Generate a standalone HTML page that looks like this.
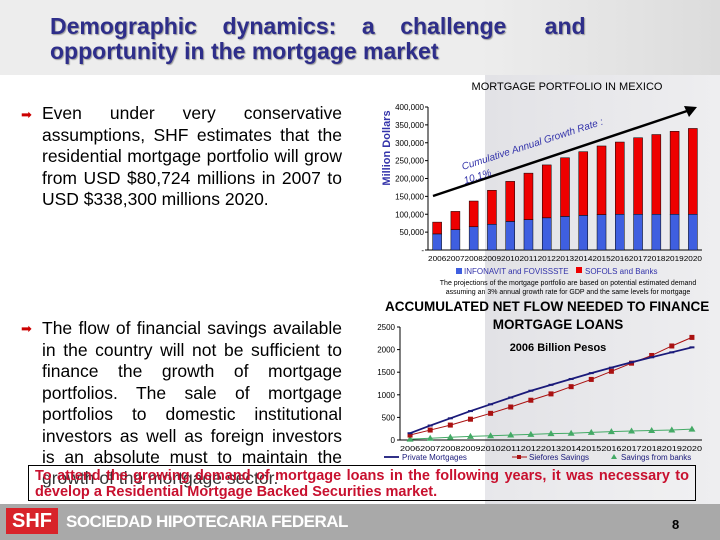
<!DOCTYPE html>
<html><head><meta charset="utf-8"><style>
body{margin:0;width:720px;height:540px;overflow:hidden;position:relative;font-family:"Liberation Sans",sans-serif;background:#fff}
.abs{position:absolute}
.txt{font-size:17.5px;line-height:21.5px;text-align:justify;text-align-last:justify;color:#000}
</style></head><body>
<div class="abs" style="left:0;top:0;width:720px;height:75px;background:linear-gradient(90deg,#ededed 0,#ededed 480px,#dcdcdc 720px)"></div>
<div class="abs" style="left:485px;top:75px;width:235px;height:430px;background:linear-gradient(90deg,#e2e2e6,#eeeef0)"></div>
<div class="abs" style="left:50px;top:14px;width:545px;font:bold 23px/25px 'Liberation Sans',sans-serif;color:#2e2e8a;text-align:justify;text-align-last:left;text-shadow:1px 1px 1px #999">Demographic&nbsp;&nbsp;&nbsp; dynamics:&nbsp;&nbsp;&nbsp; a&nbsp;&nbsp;&nbsp; challenge&nbsp;&nbsp;&nbsp;&nbsp;&nbsp; and<br>opportunity in the mortgage market</div>

<div class="abs" style="left:21px;top:107px;color:#c00;font-size:13px">➡</div>
<div class="abs txt" style="left:42px;top:103px;width:300px">Even under very conservative assumptions, SHF estimates that the residential mortgage portfolio will grow from USD $80,724 millions in 2007 to</div>
<div class="abs" style="left:42px;top:189px;font-size:17.5px">USD $338,300 millions 2020.</div>
<div class="abs" style="left:21px;top:321px;color:#c00;font-size:13px">➡</div>
<div class="abs txt" style="left:42px;top:318px;width:300px">The flow of financial savings available in the country will not be sufficient to finance the growth of mortgage portfolios. The sale of mortgage portfolios to domestic institutional investors as well as foreign investors is an absolute must to maintain the</div>
<div class="abs" style="left:42px;top:468px;font-size:17.5px">growth of the mortgage sector.</div>

<svg class="abs" style="left:0;top:0" width="720" height="540" id="charts"></svg>

<div class="abs" style="left:28px;top:465px;width:668px;height:36px;border:1.5px solid #000;box-sizing:border-box;padding:2px 6px 0 6px;font:bold 14.5px/16px 'Liberation Sans',sans-serif;color:#c8102e;text-align:justify;text-align-last:left;background:rgba(255,255,255,0.2)">To attend the growing demand of mortgage loans in the following years, it was necessary to develop a Residential Mortgage Backed Securities market.</div>

<div class="abs" style="left:0;top:504px;width:720px;height:36px;background:#a9a9a9"></div>
<div class="abs" style="left:6px;top:508px;width:52px;height:26px;background:#d8232a;color:#fff;font:bold 20px/26px 'Liberation Sans',sans-serif;text-align:center">SHF</div>
<div class="abs" style="left:66px;top:512px;color:#fff;font:bold 17px/20px 'Liberation Sans',sans-serif;letter-spacing:-0.5px">SOCIEDAD HIPOTECARIA FEDERAL</div>
<div class="abs" style="left:672px;top:517px;font:bold 13px 'Liberation Sans',sans-serif">8</div>

<script>
const years=['2006','2007','2008','2009','2010','2011','2012','2013','2014','2015','2016','2017','2018','2019','2020'];
const barYears=['2006','2007','2008','2009','2010','2011','2012','2013','2014','2015','2016','2017','2018','2019','2020'];
const infonavit=[45000,57000,65000,72000,80000,85000,90000,94000,97000,99000,100000,100000,100000,100000,100000];
const sofols=[33000,51000,72000,95000,112000,130000,148000,164000,178000,192000,202000,214000,223000,232000,240000];
const barTicks=[0,50000,100000,150000,200000,250000,300000,350000,400000];
const barTickLabels=['-','50,000','100,000','150,000','200,000','250,000','300,000','350,000','400,000'];
const privateMort=[150,320,480,640,790,940,1090,1220,1350,1480,1600,1720,1830,1940,2050];
const siefores=[110,220,330,460,590,730,880,1020,1180,1340,1520,1700,1870,2080,2270];
const banks=[20,40,60,80,95,110,125,140,150,170,185,200,210,220,240];
const lineTicks=[0,500,1000,1500,2000,2500];

const svg=document.getElementById('charts');
const NS='http://www.w3.org/2000/svg';
function mk(tag,attrs,name,text){const e=document.createElementNS(NS,tag);for(const k in attrs)e.setAttribute(k,attrs[k]);


if(text!==undefined)e.textContent=text;svg.appendChild(e);return e;}

// Bar chart
const bx0=428,bx1=702,by0=250,by1=107;
const bY=v=>by0-(v/400000)*(by0-by1);
const bStep=(bx1-bx0)/barYears.length;
const bX=i=>bx0+bStep*(i+0.5);
mk('text',{x:567,y:90,'font-size':11,'text-anchor':'middle','font-family':'Liberation Sans'},'bar-chart-title','MORTGAGE PORTFOLIO IN MEXICO');
mk('text',{x:0,y:0,'font-size':11,'font-weight':'bold',fill:'#3333aa','text-anchor':'middle',transform:'translate(390,148) rotate(-90)','font-family':'Liberation Sans'},'bar-y-axis-title','Million Dollars');
mk('line',{x1:bx0,y1:by1,x2:bx0,y2:by0,stroke:'#000'},'bar-y-axis');
mk('line',{x1:bx0,y1:by0,x2:bx1,y2:by0,stroke:'#000'},'bar-x-axis');
barTicks.forEach((t,i)=>{const y=bY(t);
mk('line',{x1:bx0-3,y1:y,x2:bx0,y2:y,stroke:'#000'},'bar-y-tick');
mk('text',{x:bx0-4,y:y+3,'font-size':8,'text-anchor':'end','font-family':'Liberation Sans'},'bar-y-tick-label',barTickLabels[i]);});
barYears.forEach((yr,i)=>{const x=bX(i),w=9;
mk('rect',{x:x-w/2,y:bY(infonavit[i]),width:w,height:by0-bY(infonavit[i]),fill:'#3f5fe0',stroke:'#000','stroke-width':0.5},'bar-infonavit-'+yr);
mk('rect',{x:x-w/2,y:bY(infonavit[i]+sofols[i]),width:w,height:bY(infonavit[i])-bY(infonavit[i]+sofols[i]),fill:'#ee0000',stroke:'#000','stroke-width':0.5},'bar-sofols-'+yr);
mk('text',{x:x,y:by0+11,'font-size':7.5,'text-anchor':'middle','font-family':'Liberation Sans',textLength:bStep,lengthAdjust:'spacingAndGlyphs'},'bar-x-tick-label',yr);});
mk('line',{x1:433,y1:196,x2:690,y2:110,stroke:'#000','stroke-width':2.5},'growth-arrow');
mk('polygon',{points:'697,107 684,106 689,117',fill:'#000'},'growth-arrowhead');
mk('text',{x:0,y:0,'font-size':10,'font-style':'italic',fill:'#3333aa',transform:'translate(463,170) rotate(-18)','font-family':'Liberation Sans'},'growth-rate-label','Cumulative Annual Growth Rate :');
mk('text',{x:0,y:0,'font-size':10,'font-style':'italic',fill:'#3333aa',transform:'translate(465,184) rotate(-18)','font-family':'Liberation Sans'},'growth-rate-value','10.1%');
mk('rect',{x:456,y:268,width:6,height:6,fill:'#3f5fe0'},'legend-infonavit-swatch');
mk('text',{x:464,y:274,'font-size':8,fill:'#3333aa','font-family':'Liberation Sans'},'legend-infonavit','INFONAVIT and FOVISSSTE');
mk('rect',{x:576,y:267,width:6,height:6,fill:'#ee0000'},'legend-sofols-swatch');
mk('text',{x:585,y:274,'font-size':8,fill:'#3333aa','font-family':'Liberation Sans'},'legend-sofols','SOFOLS and Banks');
mk('text',{x:568,y:285,'font-size':7,'text-anchor':'middle','font-family':'Liberation Sans'},'bar-footnote-1','The projections of the mortgage portfolio are based on potential estimated demand');
mk('text',{x:568,y:294,'font-size':7,'text-anchor':'middle','font-family':'Liberation Sans'},'bar-footnote-2','assuming an 3% annual growth rate for GDP and  the same levels for mortgage');

// Line chart
const lx0=400,lx1=702,ly0=440,ly1=327;
const lY=v=>ly0-(v/2500)*(ly0-ly1);
const lStep=(lx1-lx0)/years.length;
const lX=i=>lx0+lStep*(i+0.5);
mk('text',{x:385,y:311,'font-size':13.5,'font-weight':'bold','font-family':'Liberation Sans'},'line-chart-title-1','ACCUMULATED NET FLOW NEEDED TO FINANCE');
mk('text',{x:558,y:329,'font-size':13.5,'font-weight':'bold','text-anchor':'middle','font-family':'Liberation Sans'},'line-chart-title-2','MORTGAGE LOANS');
mk('text',{x:558,y:351,'font-size':11,'font-weight':'bold','text-anchor':'middle','font-family':'Liberation Sans'},'line-chart-subtitle','2006 Billion Pesos');
mk('line',{x1:lx0,y1:ly1,x2:lx0,y2:ly0,stroke:'#000'},'line-y-axis');
mk('line',{x1:lx0,y1:ly0,x2:lx1,y2:ly0,stroke:'#000'},'line-x-axis');
lineTicks.forEach(t=>{const y=lY(t);
mk('line',{x1:lx0-3,y1:y,x2:lx0,y2:y,stroke:'#000'},'line-y-tick');
mk('text',{x:lx0-5,y:y+3,'font-size':8,'text-anchor':'end','font-family':'Liberation Sans'},'line-y-tick-label',String(t));});
years.forEach((yr,i)=>mk('text',{x:lX(i),y:ly0+11,'font-size':7.5,'text-anchor':'middle','font-family':'Liberation Sans',textLength:lStep,lengthAdjust:'spacingAndGlyphs'},'line-x-tick-label',yr));
function series(arr,color,name,marker){
mk('polyline',{points:arr.map((v,i)=>lX(i)+','+lY(v)).join(' '),fill:'none',stroke:color,'stroke-width':name==='private'?1.8:1},'line-'+name);
arr.forEach((v,i)=>{const x=lX(i),y=lY(v);
if(marker==='sq')mk('rect',{x:x-2.5,y:y-2.5,width:5,height:5,fill:color},'point-'+name);
else if(marker==='tri')mk('polygon',{points:`${x},${y-3.5} ${x-3.5},${y+2.5} ${x+3.5},${y+2.5}`,fill:color},'point-'+name);
else mk('line',{x1:x-2.5,y1:y,x2:x+2.5,y2:y,stroke:color,'stroke-width':2},'point-'+name);});}
series(banks,'#44aa66','banks','tri');
series(siefores,'#aa1111','siefores','sq');
series(privateMort,'#1a1a7a','private','dash');
mk('line',{x1:384,y1:457,x2:399,y2:457,stroke:'#1a1a7a','stroke-width':1.8},'legend-private-swatch');
mk('text',{x:402,y:460,'font-size':8,fill:'#1a1a7a','font-family':'Liberation Sans'},'legend-private','Private Mortgages');
mk('line',{x1:512,y1:457,x2:527,y2:457,stroke:'#aa1111'},'legend-siefores-swatch');
mk('rect',{x:517,y:455,width:4,height:4,fill:'#aa1111'},'legend-siefores-marker');
mk('text',{x:529,y:460,'font-size':8,fill:'#1a1a7a','font-family':'Liberation Sans'},'legend-siefores','Siefores Savings');
mk('polygon',{points:'614,454 611,459 617,459',fill:'#44aa66'},'legend-banks-marker');
mk('text',{x:621,y:460,'font-size':8,fill:'#1a1a7a','font-family':'Liberation Sans'},'legend-banks','Savings from banks');
</script>
</body></html>
